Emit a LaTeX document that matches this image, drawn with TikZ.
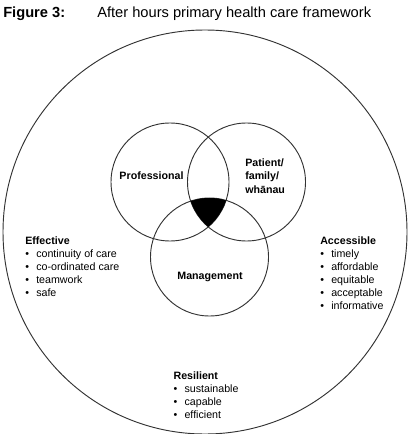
\documentclass[tikz,border=0pt]{standalone}
\usepackage{fontspec}
\setmainfont{Liberation Sans}
\newcommand\bulmark{\makebox[8.25pt][l]{•}}
\begin{document}
\begin{tikzpicture}[x=0.75pt,y=-0.75pt,
  ring/.style={draw=black!80, line width=0.7pt, circle, inner sep=0pt, outer sep=0pt},
  lbl/.style={font=\fontsize{8}{9.75}\selectfont\bfseries, inner sep=0pt, anchor=base},
  head/.style={font=\fontsize{8}{9.75}\selectfont\bfseries, inner sep=0pt, anchor=base west},
  item/.style={font=\fontsize{8}{9.75}\selectfont, inner sep=0pt, anchor=base west},
  ttl/.style={font=\fontsize{11}{13}\selectfont, inner sep=0pt, anchor=base west}]
\useasboundingbox (0,0) rectangle (408,434);
% title
\node[ttl, font=\fontsize{11}{13}\selectfont\bfseries] (fig) at (3,17.3) {Figure 3:};
\node[ttl] (title) at (97,17.3) {After hours primary health care framework};
% circles
\node[ring, minimum size=303pt] (outer) at (205,232) {};
\node[ring, minimum size=88.5pt] (prof) at (170,182) {};
\node[ring, minimum size=88.5pt] (pat) at (246.5,182) {};
\node[ring, minimum size=88.5pt] (mgmt) at (209.5,257) {};
\begin{scope}
  \clip (prof.center) circle[radius=44.25pt];
  \clip (pat.center) circle[radius=44.25pt];
  \fill[black] (mgmt.center) circle[radius=44.25pt];
\end{scope}
% circle labels
\node[lbl] (proflbl) at (151.5,179.3) {Professional};
\node[head] (patlbla) at (245,166.7) {Patient/};
\node[head] (patlblb) at (245,180) {family/};
\node[head] (patlblc) at (245,193.3) {whānau};
\node[lbl] (mgmtlbl) at (210,279) {Management};
% Effective
\node[head] (effh) at (25,244.5) {Effective};
\foreach \t [count=\i] in {continuity of care, co-ordinated care, teamwork, safe}
  \node[item] (eff\i) at (25,{244.5+13*\i}) {\bulmark\t};
% Accessible
\node[head] (acch) at (320,244.5) {Accessible};
\foreach \t [count=\i] in {timely, affordable, equitable, acceptable, informative}
  \node[item] (acc\i) at (320,{244.5+13*\i}) {\bulmark\t};
% Resilient
\node[head] (resh) at (173.3,379.3) {Resilient};
\foreach \t [count=\i] in {sustainable, capable, efficient}
  \node[item] (res\i) at (173.3,{379.3+13*\i}) {\bulmark\t};
\end{tikzpicture}
\end{document}
